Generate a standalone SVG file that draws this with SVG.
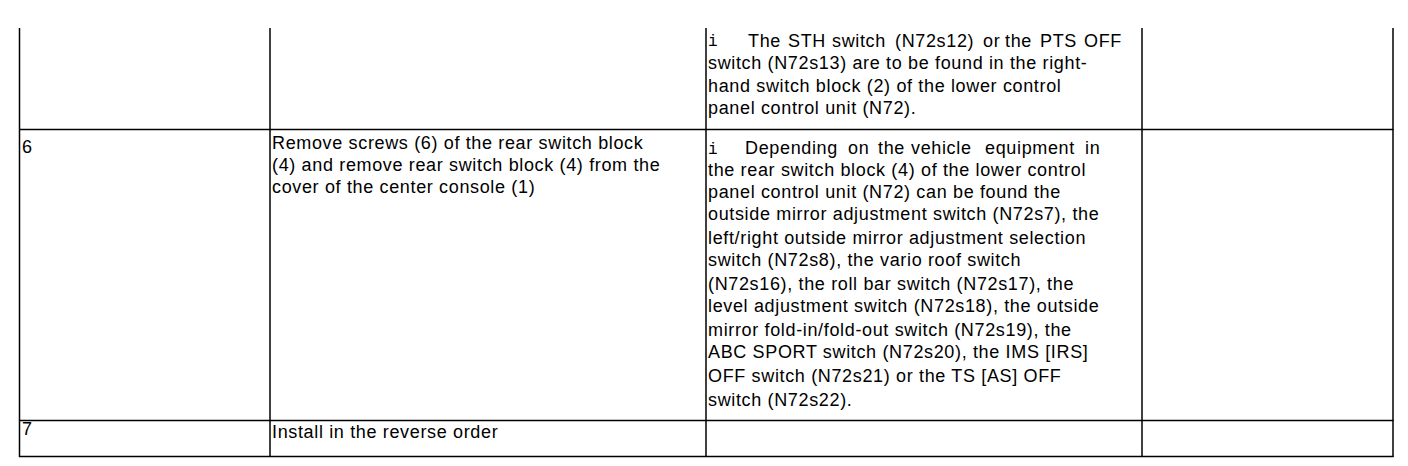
<svg xmlns="http://www.w3.org/2000/svg" width="1408" height="466" viewBox="0 0 1408 466">
<style>
.g{stroke:#000;stroke-width:1.5;fill:none}
.t{font-family:"Liberation Sans",Arial,sans-serif;font-size:18px;letter-spacing:0.65px;fill:#000}
.m{font-family:"Liberation Mono","Courier New",monospace;font-size:16px;fill:#000}
</style>
<rect width="1408" height="466" fill="#fff"/>
<g id="grid" class="g">
<line x1="19.5" y1="28" x2="19.5" y2="457"/>
<line x1="270" y1="28" x2="270" y2="457"/>
<line x1="706" y1="28" x2="706" y2="457"/>
<line x1="1142" y1="28" x2="1142" y2="457"/>
<line x1="1393" y1="28" x2="1393" y2="457"/>
<line x1="19" y1="129.5" x2="1393.5" y2="129.5"/>
<line x1="19" y1="420.5" x2="1393.5" y2="420.5"/>
<line x1="19" y1="456.5" x2="1393.5" y2="456.5"/>
</g>
<g id="row5">
<text class="m" x="708" y="46">i</text>
<text class="t" y="46.5"><tspan x="748">The</tspan><tspan x="788">STH</tspan><tspan x="832">switch</tspan><tspan x="895">(N72s12)</tspan><tspan x="983">or</tspan><tspan x="1005">the</tspan><tspan x="1040">PTS</tspan><tspan x="1084">OFF</tspan></text>
<text class="t" x="708" y="68.5">switch (N72s13) are to be found in the right-</text>
<text class="t" x="708" y="92">hand switch block (2) of the lower control</text>
<text class="t" x="708" y="114">panel control unit (N72).</text>
</g>
<g id="row6">
<text class="t" x="22" y="153">6</text>
<text class="t" x="272" y="149">Remove screws (6) of the rear switch block</text>
<text class="t" x="272" y="171">(4) and remove rear switch block (4) from the</text>
<text class="t" x="272" y="193">cover of the center console (1)</text>
<text class="m" x="708" y="154">i</text>
<text class="t" y="154"><tspan x="745">Depending</tspan><tspan x="848">on</tspan><tspan x="878">the</tspan><tspan x="911">vehicle</tspan><tspan x="985">equipment</tspan><tspan x="1085">in</tspan></text>
<text class="t" x="708" y="176">the rear switch block (4) of the lower control</text>
<text class="t" x="708" y="198">panel control unit (N72) can be found the</text>
<text class="t" x="708" y="220">outside mirror adjustment switch (N72s7), the</text>
<text class="t" x="708" y="244">left/right outside mirror adjustment selection</text>
<text class="t" x="708" y="266">switch (N72s8), the vario roof switch</text>
<text class="t" x="708" y="290">(N72s16), the roll bar switch (N72s17), the</text>
<text class="t" x="708" y="312">level adjustment switch (N72s18), the outside</text>
<text class="t" x="708" y="336">mirror fold-in/fold-out switch (N72s19), the</text>
<text class="t" x="708" y="358">ABC SPORT switch (N72s20), the IMS [IRS]</text>
<text class="t" x="708" y="382">OFF switch (N72s21) or the TS [AS] OFF</text>
<text class="t" x="708" y="406">switch (N72s22).</text>
</g>
<g id="row7">
<text class="t" x="22" y="435">7</text>
<text class="t" x="272" y="438">Install in the reverse order</text>
</g>
</svg>
